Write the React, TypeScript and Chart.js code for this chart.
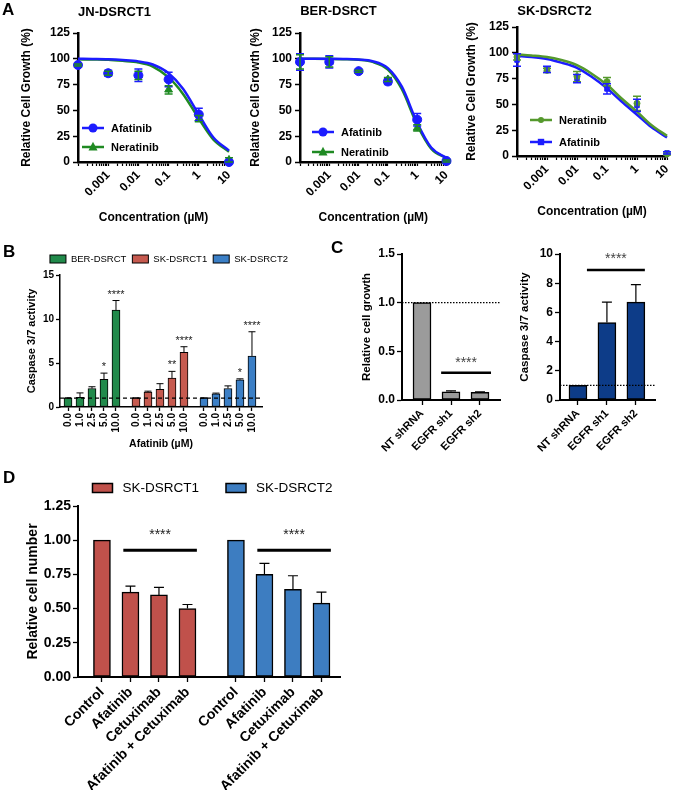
import React, { useEffect, useRef } from 'react';
import { Chart, registerables } from 'chart.js';

Chart.register(...registerables);
const FONT = "'Liberation Sans', Arial, Helvetica, sans-serif";
Chart.defaults.font.family = FONT;
Chart.defaults.color = '#000';

// ================= Panel A data =================
const doseX = [0.0001, 0.001, 0.01, 0.1, 1, 10];
const curveX = [0.0001, 0.0003, 0.001, 0.003, 0.01, 0.03, 0.1, 0.3, 1, 3, 10];
const logMajorLabels = [0.001, 0.01, 0.1, 1, 10];

const jnAfatinibPts = [94, 86, 84, 80, 46, 0];
const jnAfatinibErr = [1, 3, 6, 7, 6, 1];
const jnNeratinibPts = [94, 86, 84, 70, 42, 2];
const jnNeratinibErr = [1, 2, 4, 4, 3, 2];
const jnAfatinibCurve = [100, 99.8, 99.5, 98.8, 97.5, 94.5, 86, 71, 46, 24, 11];
const jnNeratinibCurve = [99.5, 99.3, 99, 98, 96.5, 92.5, 82, 66, 42, 22, 10];

const berAfatinibPts = [97, 97, 88, 78, 41, 1];
const berAfatinibErr = [8, 6, 1, 3, 6, 1];
const berNeratinibPts = [97, 97, 88, 80, 33, 1];
const berNeratinibErr = [7, 5, 1, 2, 3, 1];
const berAfatinibCurve = [100, 100, 100, 99.8, 99.3, 97.7, 91, 73, 38, 14, 4];
const berNeratinibCurve = [100, 100, 99.9, 99.6, 99, 97, 89.5, 70.5, 36, 13, 3.5];

const sk2NeratinibPts = [96, 83, 77, 72, 51, 2];
const sk2NeratinibErr = [3, 2, 5, 4, 7, 1];
const sk2AfatinibPts = [93, 84, 75, 65, 49, 3];
const sk2AfatinibErr = [6, 3, 4, 5, 6, 1];
const sk2NeratinibCurve = [98.5, 97.5, 96, 93, 88, 80, 69, 56, 43, 30, 19.5];
const sk2AfatinibCurve = [97, 96, 94, 90.5, 85.5, 77, 65.5, 53, 40, 28, 18];

// ================= Panel B data =================
const bDoses = ['0.0', '1.0', '2.5', '5.0', '10.0'];
const bLines = ['BER-DSRCT', 'SK-DSRCT1', 'SK-DSRCT2'];
const bBerVals = [1.0, 1.1, 2.1, 3.15, 11.0];
const bBerErr = [0.05, 0.5, 0.2, 0.7, 1.1];
const bBerStars = ['', '', '', '*', '****'];
const bSk1Vals = [1.0, 1.7, 2.0, 3.3, 6.2];
const bSk1Err = [0.05, 0.1, 0.65, 0.75, 0.65];
const bSk1Stars = ['', '', '', '**', '****'];
const bSk2Vals = [1.0, 1.5, 2.1, 3.1, 5.8];
const bSk2Err = [0.05, 0.08, 0.3, 0.1, 2.75];
const bSk2Stars = ['', '', '', '*', '****'];

// ================= Panel C data =================
const cCats = ['NT shRNA', 'EGFR sh1', 'EGFR sh2'];
const cGrowthVals = [1.0, 0.085, 0.08];
const cGrowthErr = [0, 0.008, 0.004];
const cGrowthSig = { from: 0.66, to: 2.38, y: 0.28, text: '****' };
const cCaspVals = [1.0, 5.3, 6.7];
const cCaspErr = [0, 1.4, 1.2];
const cCaspSig = { from: 0.31, to: 2.31, y: 8.9, text: '****' };

// ================= Panel D data =================
const dCats = ['Control', 'Afatinib', 'Cetuximab', 'Afatinib + Cetuximab'];
const dLines = ['SK-DSRCT1', 'SK-DSRCT2'];
const dSk1Vals = [1.0, 0.62, 0.6, 0.5];
const dSk1Err = [0, 0.045, 0.055, 0.03];
const dSk2Vals = [1.0, 0.75, 0.64, 0.54];
const dSk2Err = [0, 0.08, 0.1, 0.08];
const dSigLevel = 0.926;
const dSigSpan = [0.75, 3.33];

// ================= drawing helpers =================
function drawMarker(ctx: CanvasRenderingContext2D, style: string, x: number, y: number, r: number, color: string) {
  ctx.fillStyle = color;
  ctx.beginPath();
  if (style === 'triangle') {
    ctx.moveTo(x, y - r * 1.15);
    ctx.lineTo(x + r, y + r * 0.75);
    ctx.lineTo(x - r, y + r * 0.75);
    ctx.closePath();
  } else if (style === 'rect') {
    ctx.rect(x - r, y - r, 2 * r, 2 * r);
  } else {
    ctx.arc(x, y, r, 0, Math.PI * 2);
  }
  ctx.fill();
}

const decorPlugin = {
  id: 'decor',
  afterDatasetsDraw(chart: any, _args: any, opts: any) {
    const ctx: CanvasRenderingContext2D = chart.ctx;
    const ca = chart.chartArea;
    const xs = chart.scales.x;
    const ys = chart.scales.y;
    ctx.save();
    // reference lines
    (opts.refLines || []).forEach((r: any) => {
      const py = ys.getPixelForValue(r.y);
      ctx.beginPath();
      ctx.setLineDash(r.dash);
      ctx.lineWidth = r.width;
      ctx.strokeStyle = '#000';
      ctx.moveTo(ca.left, py);
      ctx.lineTo(ca.right, py);
      ctx.stroke();
    });
    ctx.setLineDash([]);
    // error bars and stars
    chart.data.datasets.forEach((ds: any, di: number) => {
      const meta = chart.getDatasetMeta(di);
      if (ds.errors) {
        ctx.strokeStyle = ds.errorColor || '#000';
        ctx.lineWidth = ds.errorWidth || 1;
        meta.data.forEach((el: any, i: number) => {
          const e = ds.errors[i];
          if (!e) return;
          const v = ds.data[i].y;
          const px = el.x;
          const yt = ys.getPixelForValue(v + e);
          const yb = ds.errorBoth ? ys.getPixelForValue(v - e) : ys.getPixelForValue(v);
          const c = ds.errorCap;
          ctx.beginPath();
          ctx.moveTo(px, yb);
          ctx.lineTo(px, yt);
          ctx.moveTo(px - c, yt);
          ctx.lineTo(px + c, yt);
          if (ds.errorBoth) {
            ctx.moveTo(px - c, yb);
            ctx.lineTo(px + c, yb);
          }
          ctx.stroke();
        });
      }
      if (ds.stars) {
        ctx.fillStyle = '#222';
        ctx.font = opts.starFont;
        ctx.textAlign = 'center';
        ctx.textBaseline = 'alphabetic';
        meta.data.forEach((el: any, i: number) => {
          const s = ds.stars[i];
          if (!s) return;
          const v = ds.data[i].y + (ds.errors ? ds.errors[i] : 0);
          ctx.fillText(s, el.x, ys.getPixelForValue(v) - opts.starGap);
        });
      }
    });
    // significance lines
    (opts.sig || []).forEach((s: any) => {
      const x1 = xs.getPixelForValue(s.from);
      const x2 = xs.getPixelForValue(s.to);
      const py = ys.getPixelForValue(s.y);
      ctx.strokeStyle = '#000';
      ctx.lineWidth = opts.sigWidth;
      ctx.beginPath();
      ctx.moveTo(x1, py);
      ctx.lineTo(x2, py);
      ctx.stroke();
      ctx.fillStyle = opts.sigColor;
      ctx.font = opts.sigFont;
      ctx.textAlign = 'center';
      ctx.textBaseline = 'alphabetic';
      ctx.fillText(s.text, (x1 + x2) / 2, py - opts.sigGap);
    });
    // line+marker legend
    const ll = opts.lineLegend;
    if (ll) {
      ll.items.forEach((it: any, i: number) => {
        const y = ll.y + i * ll.gap;
        ctx.strokeStyle = it.color;
        ctx.lineWidth = 2.5;
        ctx.beginPath();
        ctx.moveTo(ll.x, y);
        ctx.lineTo(ll.x + ll.len, y);
        ctx.stroke();
        drawMarker(ctx, it.marker, ll.x + ll.len / 2, y, it.radius, it.color);
        ctx.fillStyle = '#000';
        ctx.font = ll.font;
        ctx.textAlign = 'left';
        ctx.textBaseline = 'middle';
        ctx.fillText(it.label, ll.x + ll.len + ll.textGap, y + 0.5);
      });
    }
    // box legend
    const bl = opts.boxLegend;
    if (bl) {
      ctx.font = bl.font;
      const widths = bl.items.map((it: any) => ctx.measureText(it.label).width);
      let total = 0;
      widths.forEach((w: number, i: number) => {
        total += bl.boxW + bl.textGap + w + (i > 0 ? bl.itemGap : 0);
      });
      let cx = bl.cx - total / 2;
      bl.items.forEach((it: any, i: number) => {
        ctx.fillStyle = it.color;
        ctx.fillRect(cx, bl.y - bl.boxH / 2, bl.boxW, bl.boxH);
        ctx.strokeStyle = '#000';
        ctx.lineWidth = bl.border;
        ctx.strokeRect(cx, bl.y - bl.boxH / 2, bl.boxW, bl.boxH);
        ctx.fillStyle = '#000';
        ctx.textAlign = 'left';
        ctx.textBaseline = 'middle';
        ctx.fillText(it.label, cx + bl.boxW + bl.textGap, bl.y + 0.5);
        cx += bl.boxW + bl.textGap + widths[i] + bl.itemGap;
      });
    }
    ctx.restore();
  },
};
Chart.register(decorPlugin as any);

// ================= config builders =================
type Series = { label: string; color: string; marker: string; radius: number; pts: number[]; err: number[]; curve: number[] };

function logTickValues() {
  const out: number[] = [];
  [0.0001, 0.001, 0.01, 0.1, 1].forEach((d) => {
    for (let k = 1; k <= 9; k++) out.push(parseFloat((k * d).toPrecision(6)));
  });
  out.push(10);
  return out;
}

function doseConfig(title: string, series: Series[], L: any): any {
  const datasets: any[] = [];
  series.forEach((s) => {
    datasets.push({
      label: s.label + ' fit',
      data: curveX.map((x, i) => ({ x, y: s.curve[i] })),
      showLine: true,
      borderColor: s.color,
      borderWidth: 2.5,
      pointRadius: 0,
      cubicInterpolationMode: 'monotone',
      fill: false,
      order: 2,
      clip: false,
    });
  });
  series.forEach((s) => {
    datasets.push({
      label: s.label,
      data: doseX.map((x, i) => ({ x, y: s.pts[i] })),
      showLine: false,
      pointStyle: s.marker,
      pointRadius: s.radius,
      backgroundColor: s.color,
      borderColor: s.color,
      pointBorderWidth: 1,
      errors: s.err,
      errorBoth: true,
      errorCap: 4,
      errorWidth: 1.5,
      errorColor: s.color,
      order: 1,
      clip: false,
    });
  });
  const ticks = logTickValues();
  return {
    type: 'scatter',
    data: { datasets },
    options: {
      animation: false,
      responsive: false,
      events: [],
      layout: { padding: { left: 0, top: 0, right: L.padRight, bottom: 0 } },
      plugins: {
        legend: { display: false },
        tooltip: { enabled: false },
        title: {
          display: true,
          text: title,
          color: '#000',
          font: { size: 13, weight: 'bold' },
          padding: { top: L.titleTop, bottom: L.titleBottom },
        },
        decor: {
          lineLegend: {
            x: L.legX,
            y: L.legY,
            gap: L.legGap,
            len: 22,
            textGap: 7,
            font: `bold 11px ${FONT}`,
            items: series.map((s) => ({ label: s.label, color: s.color, marker: s.marker, radius: s.radius })),
          },
        },
      },
      scales: {
        x: {
          type: 'logarithmic',
          min: 0.0001,
          max: 10,
          afterBuildTicks: (s: any) => {
            s.ticks = ticks.map((v) => ({ value: v }));
          },
          afterFit: (s: any) => {
            s.height = L.xH;
            s.paddingLeft = 0;
            s.paddingRight = 0;
          },
          border: { color: '#000', width: 2.5 },
          grid: { display: true, drawOnChartArea: false, drawTicks: true, tickLength: 4, tickColor: '#000', tickWidth: 1.2 },
          ticks: {
            autoSkip: false,
            minRotation: 45,
            maxRotation: 45,
            padding: 2,
            color: '#000',
            font: { size: 12, weight: 'bold' },
            callback: (v: any) => {
              const k = logMajorLabels.find((t) => Math.abs(t - v) / t < 1e-6);
              return k !== undefined ? String(k) : '';
            },
          },
          title: {
            display: true,
            text: 'Concentration (µM)',
            color: '#000',
            font: { size: 12, weight: 'bold' },
            padding: { top: 0, bottom: L.xTitleBottom },
          },
        },
        y: {
          min: 0,
          max: 125,
          afterFit: (s: any) => {
            s.width = L.yW;
            s.paddingTop = 0;
            s.paddingBottom = 0;
          },
          border: { color: '#000', width: 2.5 },
          grid: { display: true, drawOnChartArea: false, drawTicks: true, tickLength: 5, tickColor: '#000', tickWidth: 1.5 },
          ticks: { stepSize: 25, padding: 3, color: '#000', font: { size: 12, weight: 'bold' } },
          title: {
            display: true,
            text: 'Relative Cell Growth (%)',
            color: '#000',
            font: { size: 12, weight: 'bold' },
            padding: { top: L.yTitleTop, bottom: 0 },
          },
        },
      },
    },
  };
}

function barConfig(o: any): any {
  const positions: number[] = [];
  const tickLabels: string[] = [];
  o.groups.forEach((_g: any, gi: number) =>
    o.cats.forEach((c: string, i: number) => {
      positions.push(gi * o.stride + i);
      tickLabels.push(c);
    })
  );
  const datasets = o.groups.map((g: any, gi: number) => ({
    label: g.label,
    data: g.values.map((v: number, i: number) => ({ x: gi * o.stride + i, y: v })),
    backgroundColor: g.color,
    borderColor: '#000',
    borderWidth: o.barBorder,
    borderSkipped: false,
    barThickness: o.barW,
    grouped: false,
    errors: g.errors,
    errorCap: o.cap,
    errorWidth: o.errW,
    stars: g.stars,
  }));
  const sig = (o.sig || []).map((s: any) => ({
    from: s.group * o.stride + s.from,
    to: s.group * o.stride + s.to,
    y: s.y,
    text: s.text,
  }));
  const L = o.L;
  return {
    type: 'bar',
    data: { datasets },
    options: {
      animation: false,
      responsive: false,
      events: [],
      layout: { padding: { left: 0, top: L.top, right: L.right, bottom: 0 } },
      plugins: {
        legend: { display: false },
        tooltip: { enabled: false },
        decor: {
          refLines: o.refLines || [],
          sig,
          sigFont: o.sigFont,
          sigGap: o.sigGap,
          sigWidth: o.sigWidth,
          sigColor: o.sigColor,
          starFont: o.starFont,
          starGap: o.starGap,
          boxLegend: o.legend
            ? { ...o.legend, items: o.groups.map((g: any) => ({ label: g.label, color: g.color })) }
            : undefined,
        },
      },
      scales: {
        x: {
          type: 'linear',
          min: o.xMin,
          max: o.xMax,
          offset: false,
          afterBuildTicks: (s: any) => {
            s.ticks = positions.map((v) => ({ value: v }));
          },
          afterFit: (s: any) => {
            s.height = L.xH;
            s.paddingLeft = 0;
            s.paddingRight = 0;
          },
          border: { color: '#000', width: o.axisW },
          grid: { display: true, offset: false, drawOnChartArea: false, drawTicks: true, tickLength: o.tickLen, tickColor: '#000', tickWidth: 1.3 },
          ticks: {
            autoSkip: false,
            minRotation: o.rot,
            maxRotation: o.rot,
            padding: 2,
            color: '#000',
            font: { size: o.xFont, weight: 'bold' },
            callback: (_v: any, i: number) => tickLabels[i],
          },
          title: o.xTitle
            ? { display: true, text: o.xTitle, color: '#000', font: { size: o.xTitleFont, weight: 'bold' }, padding: { top: 0, bottom: L.xTitleBottom } }
            : { display: false },
        },
        y: {
          min: o.yMin,
          max: o.yMax,
          afterFit: (s: any) => {
            s.width = L.yW;
            s.paddingTop = 0;
            s.paddingBottom = 0;
          },
          border: { color: '#000', width: o.axisW },
          grid: { display: true, drawOnChartArea: false, drawTicks: true, tickLength: o.tickLen, tickColor: '#000', tickWidth: 1.3 },
          ticks: {
            stepSize: o.step,
            padding: 2,
            color: '#000',
            font: { size: o.yFont, weight: 'bold' },
            callback: (v: any) => Number(v).toFixed(o.decimals),
          },
          title: {
            display: true,
            text: o.yTitle,
            color: '#000',
            font: { size: o.yTitleFont, weight: 'bold' },
            padding: { top: L.yTitleTop, bottom: 0 },
          },
        },
      },
    },
  };
}

// ================= configs =================
const BLUE = '#1c1cff';
const GREEN = '#1f8a22';
const OLIVE = '#55992d';

const makeA1 = () =>
  doseConfig(
    'JN-DSRCT1',
    [
      { label: 'Afatinib', color: BLUE, marker: 'circle', radius: 4.5, pts: jnAfatinibPts, err: jnAfatinibErr, curve: jnAfatinibCurve },
      { label: 'Neratinib', color: GREEN, marker: 'triangle', radius: 4.5, pts: jnNeratinibPts, err: jnNeratinibErr, curve: jnNeratinibCurve },
    ],
    { padRight: 7, titleTop: 4.2, titleBottom: 13.2, xH: 66, yW: 78, yTitleTop: 19.8, xTitleBottom: 2.8, legX: 82, legY: 128, legGap: 19 }
  );

const makeA2 = () =>
  doseConfig(
    'BER-DSRCT',
    [
      { label: 'Afatinib', color: BLUE, marker: 'circle', radius: 4.5, pts: berAfatinibPts, err: berAfatinibErr, curve: berAfatinibCurve },
      { label: 'Neratinib', color: GREEN, marker: 'triangle', radius: 4.5, pts: berNeratinibPts, err: berNeratinibErr, curve: berNeratinibCurve },
    ],
    { padRight: 3, titleTop: 3.2, titleBottom: 14.2, xH: 66, yW: 72, yTitleTop: 20.8, xTitleBottom: 2.8, legX: 84, legY: 132, legGap: 20 }
  );

const makeA3 = () =>
  doseConfig(
    'SK-DSRCT2',
    [
      { label: 'Neratinib', color: OLIVE, marker: 'circle', radius: 3, pts: sk2NeratinibPts, err: sk2NeratinibErr, curve: sk2NeratinibCurve },
      { label: 'Afatinib', color: BLUE, marker: 'rect', radius: 3.2, pts: sk2AfatinibPts, err: sk2AfatinibErr, curve: sk2AfatinibCurve },
    ],
    { padRight: 3, titleTop: 3.2, titleBottom: 8.2, xH: 66, yW: 77, yTitleTop: 24.8, xTitleBottom: 2.8, legX: 90, legY: 120, legGap: 22 }
  );

const makeB = () =>
  barConfig({
    groups: [
      { label: bLines[0], color: '#218a4b', values: bBerVals, errors: bBerErr, stars: bBerStars },
      { label: bLines[1], color: '#c65a4f', values: bSk1Vals, errors: bSk1Err, stars: bSk1Stars },
      { label: bLines[2], color: '#3b7fc6', values: bSk2Vals, errors: bSk2Err, stars: bSk2Stars },
    ],
    cats: bDoses,
    stride: 5.667,
    xMin: -0.667,
    xMax: 16.17,
    yMin: 0,
    yMax: 15,
    step: 5,
    decimals: 0,
    barW: 8,
    barBorder: 1,
    cap: 3.5,
    errW: 1,
    axisW: 1.5,
    tickLen: 4,
    rot: 90,
    xFont: 10,
    yFont: 10,
    yTitle: 'Caspase 3/7 activity',
    yTitleFont: 11,
    xTitle: 'Afatinib (µM)',
    xTitleFont: 10.5,
    starFont: `11px ${FONT}`,
    starGap: 3,
    refLines: [{ y: 1, dash: [4, 3], width: 1.3 }],
    legend: { cx: 169, y: 19, boxW: 16, boxH: 8, textGap: 5, itemGap: 6, border: 1, font: `9.5px ${FONT}` },
    L: { top: 35, right: 28, xH: 47, yW: 60, yTitleTop: 25.4, xTitleBottom: 3.7 },
  });

const makeC1 = () =>
  barConfig({
    groups: [{ label: 'growth', color: '#9b9b9b', values: cGrowthVals, errors: cGrowthErr }],
    cats: cCats,
    stride: 3,
    xMin: -0.69,
    xMax: 2.69,
    yMin: 0,
    yMax: 1.5,
    step: 0.5,
    decimals: 1,
    barW: 18,
    barBorder: 1.5,
    cap: 5,
    errW: 1.2,
    axisW: 2,
    tickLen: 5,
    rot: 45,
    xFont: 11,
    yFont: 12,
    yTitle: 'Relative cell growth',
    yTitleFont: 11.5,
    refLines: [{ y: 1, dash: [1.5, 1.5], width: 1.3 }],
    sig: [{ group: 0, ...cGrowthSig }],
    sigFont: `14px ${FONT}`,
    sigGap: 6,
    sigWidth: 2.5,
    sigColor: '#444',
    L: { top: 14, right: 5, xH: 55, yW: 67, yTitleTop: 25 },
  });

const makeC2 = () =>
  barConfig({
    groups: [{ label: 'caspase', color: '#0d3c88', values: cCaspVals, errors: cCaspErr }],
    cats: cCats,
    stride: 3,
    xMin: -0.62,
    xMax: 2.66,
    yMin: 0,
    yMax: 10,
    step: 2,
    decimals: 0,
    barW: 18,
    barBorder: 1.5,
    cap: 5,
    errW: 1.2,
    axisW: 2,
    tickLen: 5,
    rot: 45,
    xFont: 11,
    yFont: 12,
    yTitle: 'Caspase 3/7 activity',
    yTitleFont: 11.5,
    refLines: [{ y: 1, dash: [1.5, 1.5], width: 1.3 }],
    sig: [{ group: 0, ...cCaspSig }],
    sigFont: `14px ${FONT}`,
    sigGap: 7,
    sigWidth: 2.5,
    sigColor: '#444',
    L: { top: 14, right: 15, xH: 55, yW: 55, yTitleTop: 13 },
  });

const makeD = () =>
  barConfig({
    groups: [
      { label: dLines[0], color: '#c0514b', values: dSk1Vals, errors: dSk1Err },
      { label: dLines[1], color: '#3d7dc1', values: dSk2Vals, errors: dSk2Err },
    ],
    cats: dCats,
    stride: 4.7,
    xMin: -0.84,
    xMax: 8.35,
    yMin: 0,
    yMax: 1.25,
    step: 0.25,
    decimals: 2,
    barW: 17,
    barBorder: 1.5,
    cap: 5,
    errW: 1.2,
    axisW: 2,
    tickLen: 5,
    rot: 45,
    xFont: 14,
    yFont: 14,
    yTitle: 'Relative cell number',
    yTitleFont: 14,
    sig: [
      { group: 0, from: dSigSpan[0], to: dSigSpan[1], y: dSigLevel, text: '****' },
      { group: 1, from: dSigSpan[0], to: dSigSpan[1], y: dSigLevel, text: '****' },
    ],
    sigFont: `14px ${FONT}`,
    sigGap: 11,
    sigWidth: 3,
    sigColor: '#222',
    legend: { cx: 212.5, y: 18, boxW: 20, boxH: 9, textGap: 10, itemGap: 27, border: 1.5, font: `13.5px ${FONT}` },
    L: { top: 36, right: 5, xH: 113, yW: 78, yTitleTop: 24.6 },
  });

// ================= components =================
function ChartCanvas({ left, top, width, height, make }: any) {
  const ref = useRef<HTMLCanvasElement | null>(null);
  useEffect(() => {
    if (!ref.current) return;
    const chart = new Chart(ref.current, make());
    return () => chart.destroy();
  }, []);
  return (
    <div style={{ position: 'absolute', left, top, width, height }}>
      <canvas ref={ref} width={width} height={height} style={{ width, height, display: 'block' }} />
    </div>
  );
}

const panelLetters = [
  { t: 'A', x: 2, y: 1 },
  { t: 'B', x: 3, y: 243 },
  { t: 'C', x: 331, y: 239 },
  { t: 'D', x: 3, y: 469 },
];

export default function App() {
  return (
    <div style={{ position: 'absolute', left: 0, top: 0, width: 674, height: 790, background: '#fff', overflow: 'hidden' }}>
      <ChartCanvas left={0} top={0} width={236} height={228} make={makeA1} />
      <ChartCanvas left={228} top={0} width={224} height={228} make={makeA2} />
      <ChartCanvas left={440} top={0} width={232} height={222} make={makeA3} />
      <ChartCanvas left={0} top={240} width={290} height={214} make={makeB} />
      <ChartCanvas left={335} top={240} width={170} height={215} make={makeC1} />
      <ChartCanvas left={505} top={240} width={165} height={215} make={makeC2} />
      <ChartCanvas left={0} top={470} width={345} height={320} make={makeD} />
      {panelLetters.map((p) => (
        <div
          key={p.t}
          style={{
            position: 'absolute',
            left: p.x,
            top: p.y,
            fontFamily: FONT,
            fontWeight: 'bold',
            fontSize: 17,
            lineHeight: '17px',
            color: '#000',
          }}
        >
          {p.t}
        </div>
      ))}
    </div>
  );
}
